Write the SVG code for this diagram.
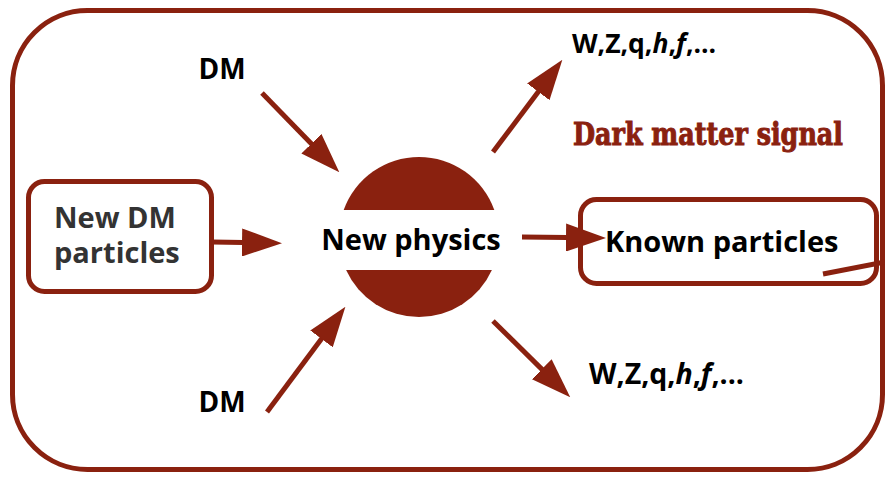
<svg xmlns="http://www.w3.org/2000/svg" width="885" height="477" viewBox="0 0 885 477">
<style>
.lbl{font-family:"Open Sans","Noto Sans","Liberation Sans",sans-serif;font-weight:700;fill:#000}
.gray{fill:#333}
.red{fill:#8a210f}
.box{fill:#fff;stroke:#8a210f;stroke-width:5}
.con{stroke:#8a210f;stroke-width:5;fill:none}
.sig{font-family:"DejaVu Serif","Liberation Serif",serif;font-weight:700;fill:#8a210f;stroke:#8a210f;stroke-width:1}
</style>
<defs>
<marker id="ah" markerUnits="userSpaceOnUse" markerWidth="40" markerHeight="28" viewBox="0 0 40 28" refX="1" refY="14" orient="auto">
<path d="M0,0 L40,14 L0,28 Z" fill="#8a210f"/>
</marker>
</defs>
<g id="frame">
<rect x="12.5" y="10.5" width="870" height="459" rx="75" ry="75" fill="none" stroke="#8a210f" stroke-width="5"/>
</g>
<g id="new-physics">
<path class="red" d="M343.7,210 A80,80 0 0 1 494.3,210 Z"/>
<path class="red" d="M346.1,270 A80,80 0 0 0 491.9,270 Z"/>
<text class="lbl" x="411" y="250" font-size="29" text-anchor="middle">New physics</text>
</g>
<g id="dm-top"><text class="lbl" x="222" y="79" font-size="28" text-anchor="middle">DM</text></g>
<g id="dm-bottom"><text class="lbl" x="222" y="412" font-size="28" text-anchor="middle">DM</text></g>
<g id="new-dm">
<rect class="box" x="28.5" y="181.5" width="183" height="110" rx="16"/>
<text class="lbl gray" x="54" y="228" font-size="29">New DM</text>
<text class="lbl gray" x="54" y="263" font-size="29">particles</text>
</g>
<g id="known">
<rect class="box" x="580.5" y="199.5" width="296" height="84" rx="16"/>
<text class="lbl" x="605" y="252" font-size="29">Known particles</text>
</g>
<g id="out-top"><text class="lbl" x="572" y="53" font-size="26.5">W,Z,q,<tspan font-style="italic">h</tspan>,<tspan font-style="italic">f</tspan>,...</text></g>
<g id="out-bottom"><text class="lbl" x="589" y="384" font-size="28.5">W,Z,q,<tspan font-style="italic">h</tspan>,<tspan font-style="italic">f</tspan>,...</text></g>
<g id="signal"><text class="sig" x="573" y="145" font-size="31" textLength="270" lengthAdjust="spacingAndGlyphs">Dark matter signal</text></g>
<g id="connectors">
<line class="con" x1="262" y1="93" x2="312.1" y2="144.4" marker-end="url(#ah)"/>
<line class="con" x1="267" y1="412" x2="322.1" y2="338.1" marker-end="url(#ah)"/>
<line class="con" x1="493" y1="152" x2="538.9" y2="91" marker-end="url(#ah)"/>
<line class="con" x1="493" y1="321" x2="542.5" y2="369.9" marker-end="url(#ah)"/>
<line class="con" x1="522" y1="237" x2="567" y2="237.5" marker-end="url(#ah)"/>
<line class="con" x1="212" y1="242" x2="243" y2="242.5" marker-end="url(#ah)"/>
<line class="con" x1="823" y1="274" x2="885" y2="262"/>
</g>
</svg>
